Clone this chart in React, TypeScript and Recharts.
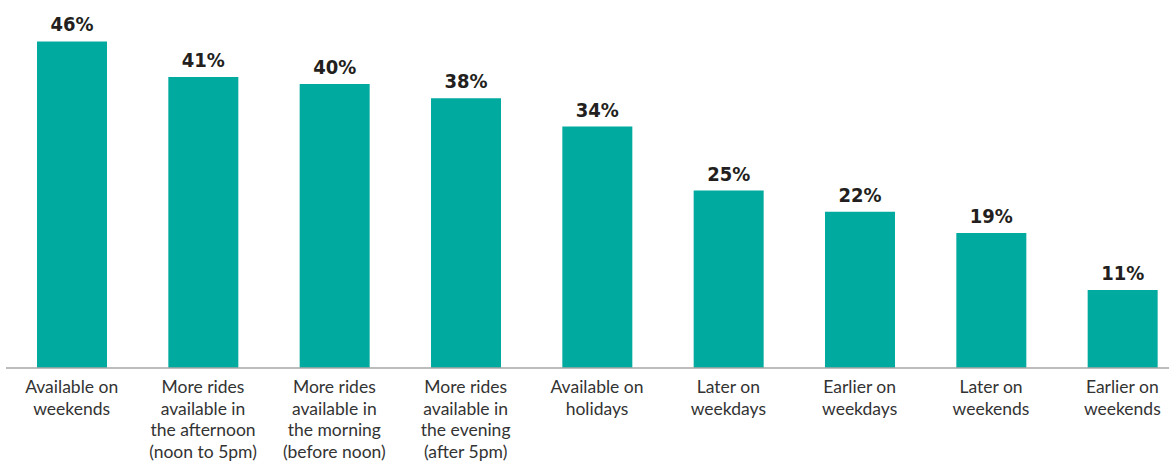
import { Bar, BarChart, LabelList, XAxis, YAxis } from "recharts";

const categories = [
  "Available on|weekends",
  "More rides|available in|the afternoon|(noon to 5pm)",
  "More rides|available in|the morning|(before noon)",
  "More rides|available in|the evening|(after 5pm)",
  "Available on|holidays",
  "Later on|weekdays",
  "Earlier on|weekdays",
  "Later on|weekends",
  "Earlier on|weekends",
];
const shares = [46, 41, 40, 38, 34, 25, 22, 19, 11];

const data = categories.map((name, i) => ({ name, value: shares[i] }));

const CategoryTick = ({ x, y, payload }: any) => {
  const lines = String(payload.value).split("|");
  return (
    <text x={x} y={y} textAnchor="middle" fill="#333" fontFamily="Lato, sans-serif" fontSize={17.5}>
      {lines.map((line, i) => (
        <tspan key={i} x={x} dy={i === 0 ? 17 : 21.5}>
          {line}
        </tspan>
      ))}
    </text>
  );
};

export default function App() {
  return (
    <div style={{ position: "fixed", left: 0, top: 0, width: 1169, height: 463, overflow: "hidden", background: "#fff" }}>
      <BarChart width={1188} height={463} data={data} margin={{ top: 13, right: 0, bottom: 0, left: 6 }}>
        <XAxis
          dataKey="name"
          interval={0}
          tickLine={false}
          axisLine={{ stroke: "#a6a6a6", strokeWidth: 1.5 }}
          tick={<CategoryTick />}
          height={95}
        />
        <YAxis hide domain={[0, 50]} />
        <Bar dataKey="value" fill="#00aa9e" barSize={70} isAnimationActive={false}>
          <LabelList
            dataKey="value"
            position="top"
            offset={10}
            formatter={(v: number) => `${v}%`}
            style={{ fill: "#231f20", fontFamily: "'DejaVu Sans', sans-serif", fontStretch: "condensed", fontWeight: 700, fontSize: 20 }}
          />
        </Bar>
      </BarChart>
    </div>
  );
}
